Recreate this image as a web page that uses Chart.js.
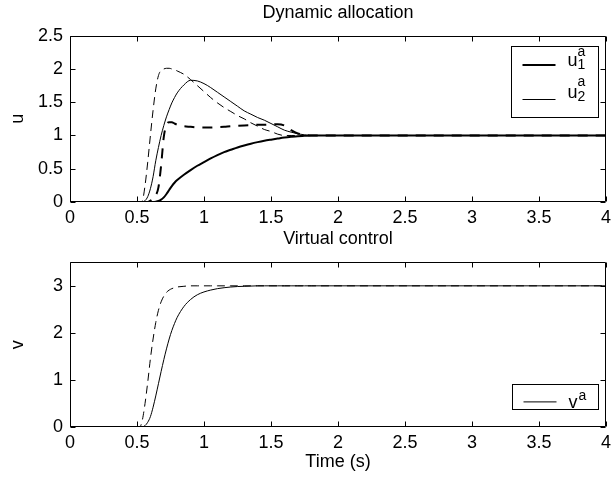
<!DOCTYPE html>
<html>
<head>
<meta charset="utf-8">
<script src="https://cdn.jsdelivr.net/npm/chart.js@4.4.1/dist/chart.umd.min.js"></script>
<style>
  body { margin: 0; background: #fff; }
  canvas { position: absolute; left: 0; }
  #topChart { top: 0; }
  #bottomChart { top: 228px; }
</style>
</head>
<body>
<canvas id="topChart" width="616" height="228"></canvas>
<canvas id="bottomChart" width="616" height="256"></canvas>
<script>
    // time grid (s)
    const time = [0, 0.5, 0.52, 0.54, 0.56, 0.58, 0.6, 0.62, 0.64, 0.66, 0.68, 0.7, 0.72, 0.74, 0.76, 0.78, 0.8,
        0.85, 0.9, 0.95, 1.0, 1.05, 1.1, 1.15, 1.2, 1.25, 1.3, 1.35, 1.4, 1.45, 1.5, 1.55, 1.6, 1.65, 1.7, 1.75, 1.8, 2.0, 4.0];

    // dynamic allocation (solid) and reference (dashed)
    const u1a = [0, 0, 0, 0, 0, 0, 0, 0, 0.005, 0.015, 0.035, 0.07, 0.12, 0.18, 0.24, 0.29, 0.33,
        0.41, 0.48, 0.545, 0.6, 0.655, 0.705, 0.75, 0.785, 0.82, 0.85, 0.877, 0.9, 0.92, 0.937, 0.953, 0.968, 0.98, 0.99, 0.995, 1.0, 1.0, 1.0];
    const u2a = [0, 0, 0, 0, 0.02, 0.08, 0.2, 0.38, 0.62, 0.82, 1.0, 1.15, 1.28, 1.39, 1.49, 1.57, 1.64,
        1.76, 1.83, 1.82, 1.78, 1.72, 1.65, 1.58, 1.51, 1.44, 1.37, 1.32, 1.27, 1.23, 1.18, 1.13, 1.08, 1.05, 1.025, 1.01, 1.0, 1.0, 1.0];
    const u1Ref = [0, 0, 0, 0, 0, 0, 0.02, 0.05, 0.1, 0.22, 0.55, 0.98, 1.16, 1.2, 1.2, 1.18, 1.16,
        1.14, 1.13, 1.12, 1.12, 1.12, 1.125, 1.13, 1.14, 1.145, 1.15, 1.155, 1.16, 1.16, 1.165, 1.17, 1.15, 1.08, 1.03, 1.01, 1.0, 1.0, 1.0];
    const u2Ref = [0, 0, 0, 0.02, 0.25, 0.6, 1.0, 1.38, 1.7, 1.9, 1.98, 2.0, 2.01, 2.01, 2.0, 1.99, 1.97,
        1.92, 1.84, 1.75, 1.66, 1.57, 1.49, 1.42, 1.36, 1.3, 1.25, 1.19, 1.14, 1.09, 1.06, 1.02, 1.0, 1.0, 1.0, 1.0, 1.0, 1.0, 1.0];

    // virtual control
    const va = [0, 0, 0, 0, 0.03, 0.1, 0.22, 0.42, 0.66, 0.92, 1.18, 1.43, 1.66, 1.87, 2.05, 2.2, 2.33,
        2.56, 2.71, 2.81, 2.87, 2.91, 2.94, 2.96, 2.975, 2.985, 2.99, 2.995, 3, 3, 3, 3, 3, 3, 3, 3, 3, 3, 3];
    const vRef = [0, 0, 0, 0.15, 0.5, 0.95, 1.45, 1.87, 2.22, 2.48, 2.66, 2.78, 2.86, 2.91, 2.94, 2.96, 2.975,
        2.99, 3, 3, 3, 3, 3, 3, 3, 3, 3, 3, 3, 3, 3, 3, 3, 3, 3, 3, 3, 3, 3];

    const xTicks = [0, 0.5, 1, 1.5, 2, 2.5, 3, 3.5, 4];
    const uTicks = [0, 0.5, 1, 1.5, 2, 2.5];
    const vTicks = [0, 1, 2, 3];

    const FONT = '"Liberation Sans", Arial, sans-serif';
    Chart.defaults.font.family = FONT;
    Chart.defaults.font.size = 18;
    Chart.defaults.color = '#000';

    function series(label, values, width, dash) {
        return {
            label: label,
            data: time.map((t, i) => ({ x: t, y: values[i] })),
            borderColor: '#000',
            borderWidth: width,
            borderDash: dash,
            pointRadius: 0,
            fill: false,
            cubicInterpolationMode: 'monotone'
        };
    }

    function xScale(height, titleText) {
        return {
            type: 'linear', min: 0, max: 4,
            afterBuildTicks: s => { s.ticks = xTicks.map(v => ({ value: v })); },
            ticks: { padding: 5, maxRotation: 0, autoSkip: false, callback: v => String(v) },
            grid: { display: false, drawTicks: false },
            border: { display: false },
            title: titleText ? { display: true, text: titleText, padding: { top: 0, bottom: 11.2 } } : { display: false },
            afterFit: s => { s.height = height; }
        };
    }

    function yScale(max, tickList, titleText) {
        return {
            type: 'linear', min: 0, max: max,
            afterBuildTicks: s => { s.ticks = tickList.map(v => ({ value: v })); },
            ticks: { padding: 7, callback: v => String(v) },
            grid: { display: false, drawTicks: false },
            border: { display: false },
            title: { display: true, text: titleText, padding: { top: 7.5, bottom: 0 } },
            afterFit: s => { s.width = 70; }
        };
    }

    // matlab style box with inward ticks + boxed legend
    const matlabAxes = {
        id: 'matlabAxes',
        afterDatasetsDraw(chart, args, opts) {
            const { ctx, chartArea: a, scales: { x, y } } = chart;
            const L = Math.round(a.left) + 0.5, R = Math.round(a.right) - 0.5;
            const T = Math.round(a.top) + 0.5, B = Math.round(a.bottom) - 0.5;
            ctx.save();
            ctx.strokeStyle = '#000';
            ctx.lineWidth = 1;
            ctx.setLineDash([]);
            ctx.beginPath();
            ctx.rect(L, T, R - L, B - T);
            x.ticks.forEach(t => {
                const px = Math.round(x.getPixelForValue(t.value)) + 0.5;
                ctx.moveTo(px, B); ctx.lineTo(px, B - 5);
                ctx.moveTo(px, T); ctx.lineTo(px, T + 5);
            });
            y.ticks.forEach(t => {
                const py = Math.round(y.getPixelForValue(t.value)) + 0.5;
                ctx.moveTo(L, py); ctx.lineTo(L + 5, py);
                ctx.moveTo(R, py); ctx.lineTo(R - 5, py);
            });
            ctx.stroke();

            // legend
            const lg = opts.legend;
            const left = Math.round(a.right - lg.right - lg.width) + 0.5;
            const top = lg.fromBottom != null
                ? Math.round(a.bottom - lg.fromBottom - lg.height) + 0.5
                : Math.round(a.top + lg.fromTop) + 0.5;
            ctx.fillStyle = '#fff';
            ctx.fillRect(left, top, lg.width, lg.height);
            ctx.strokeRect(left, top, lg.width, lg.height);
            lg.items.forEach(it => {
                const ds = chart.data.datasets[it.dataset];
                ctx.beginPath();
                ctx.lineWidth = ds.borderWidth;
                ctx.moveTo(left + 11, top + it.lineY);
                ctx.lineTo(left + 44, top + it.lineY);
                ctx.stroke();
                ctx.fillStyle = '#000';
                ctx.textAlign = 'left';
                ctx.textBaseline = 'alphabetic';
                ctx.font = '18px ' + FONT;
                ctx.fillText(it.base, left + 56, top + it.baseY);
                ctx.font = '14px ' + FONT;
                ctx.fillText(it.sup, left + 66, top + it.supY);
                if (it.sub) ctx.fillText(it.sub, left + 66, top + it.subY);
            });
            ctx.restore();
        }
    };

    const topChart = new Chart(document.getElementById('topChart'), {
        type: 'line',
        data: {
            datasets: [
                series('u1a', u1a, 2, []),
                series('u2a', u2a, 1, []),
                series('u1', u1Ref, 2, [10, 8]),
                series('u2', u2Ref, 1, [8, 5])
            ]
        },
        options: {
            responsive: false,
            animation: false,
            layout: { padding: { left: 0, right: 6, top: 0, bottom: 0 } },
            scales: {
                x: xScale(26, null),
                y: yScale(2.5, uTicks, 'u')
            },
            plugins: {
                legend: { display: false },
                tooltip: { enabled: false },
                title: {
                    display: true, text: 'Dynamic allocation', fullSize: false,
                    font: { size: 18, weight: 'normal' }, padding: { top: 2.2, bottom: 11.9 }
                },
                matlabAxes: {
                    legend: {
                        right: 8, fromTop: 10, width: 87, height: 71,
                        items: [
                            { dataset: 0, base: 'u', sup: 'a', sub: '1', lineY: 18.6, baseY: 19.3, supY: 9.3, subY: 22.6 },
                            { dataset: 1, base: 'u', sup: 'a', sub: '2', lineY: 53, baseY: 51, supY: 39.3, subY: 54.3 }
                        ]
                    }
                }
            }
        },
        plugins: [matlabAxes]
    });

    const bottomChart = new Chart(document.getElementById('bottomChart'), {
        type: 'line',
        data: {
            datasets: [
                series('va', va, 1, []),
                series('v', vRef, 1, [8, 5])
            ]
        },
        options: {
            responsive: false,
            animation: false,
            layout: { padding: { left: 0, right: 6, top: 0, bottom: 0 } },
            scales: {
                x: xScale(57, 'Time (s)'),
                y: yScale(3.5, vTicks, 'v')
            },
            plugins: {
                legend: { display: false },
                tooltip: { enabled: false },
                title: {
                    display: true, text: 'Virtual control', fullSize: false,
                    font: { size: 18, weight: 'normal' }, padding: { top: 0.2, bottom: 12.5 }
                },
                matlabAxes: {
                    legend: {
                        right: 8, fromBottom: 18, width: 86, height: 25,
                        items: [
                            { dataset: 0, base: 'v', sup: 'a', lineY: 17.4, baseY: 23.4, supY: 15 }
                        ]
                    }
                }
            }
        },
        plugins: [matlabAxes]
    });
</script>
</body>
</html>
